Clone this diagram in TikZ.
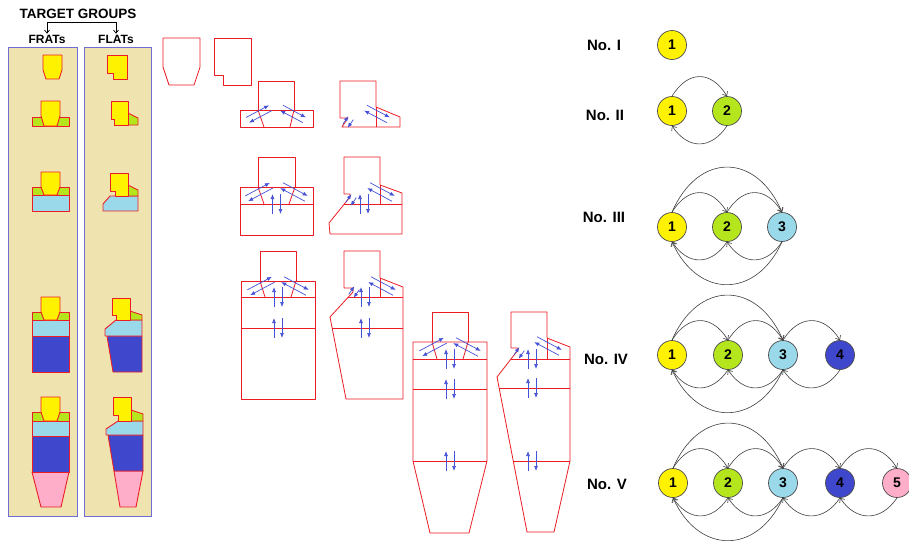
\documentclass[tikz,border=0pt]{standalone}
\usepackage{fontspec}
\setmainfont{Liberation Sans}
\usepackage{xcolor}
\definecolor{tgtan}{RGB}{239,228,176}
\definecolor{tgframe}{RGB}{110,110,210}
\definecolor{tgred}{RGB}{237,28,36}
\definecolor{tgyellow}{RGB}{255,242,0}
\definecolor{tggreen}{RGB}{181,230,29}
\definecolor{tgcyan}{RGB}{153,217,234}
\definecolor{tgblue}{RGB}{63,72,204}
\definecolor{tgpink}{RGB}{255,174,201}
\definecolor{tgflow}{RGB}{70,82,214}
\usetikzlibrary{arrows.meta}

\tikzset{
  layer/.style={draw=tgred, line width=0.9pt, line join=round},
  outline/.style={draw=tgred, line width=0.8pt, line join=round},
  flow/.style={draw=tgflow, line width=0.7pt, -{Latex[length=5pt,width=4pt]}},
  pointer/.style={draw=black, line width=0.7pt, -{Straight Barb[length=3pt,width=5pt]}},
  stage/.style={circle, draw=black!70, line width=0.7pt, minimum size=29pt, inner sep=0pt,
    font=\bfseries\fontsize{14}{14}\selectfont},
  rowlabel/.style={font=\bfseries\fontsize{15}{15}\selectfont},
  link/.style={draw=black!75, line width=0.6pt, -{Straight Barb[length=3.5pt,width=6pt]}},
  hop/.style={link, to path={.. controls +(16,-26) and +(-16,-26) .. (\tikztotarget)}},
  leap/.style={link, to path={.. controls +(26,-60) and +(-26,-60) .. (\tikztotarget)}},
  hopback/.style={link, to path={.. controls +(-16,24) and +(16,24) .. (\tikztotarget)}},
  leapback/.style={link, to path={.. controls +(-26,57) and +(26,57) .. (\tikztotarget)}},
}

% two opposite arrows side by side: centre x, centre y, angle, length
\newcommand{\swapflow}[4]{%
  \begin{scope}[shift={(#1,#2)}, rotate=#3]
    \draw[flow] (-#4/2,-3) -- (#4/2,-3);
    \draw[flow] (#4/2,3) -- (-#4/2,3);
  \end{scope}}
% up and down arrows across a section line: centre x, line y
\newcommand{\updown}[2]{%
  \draw[flow] (#1-4,#2+10) -- (#1-4,#2-10);
  \draw[flow] (#1+4,#2-10) -- (#1+4,#2+10);}

\begin{document}
\begin{tikzpicture}[x=1pt, y=-1pt]
  \fill[white] (0,0) rectangle (909,542);
  \useasboundingbox (0,0) rectangle (909,542);

  % --- Target groups ---
  \node[font=\bfseries\fontsize{13.5}{13.5}\selectfont] (title) at (78,14) {TARGET GROUPS};
  \node[font=\bfseries\fontsize{12}{12}\selectfont, inner sep=1pt] (frat) at (47,39) {FRATs};
  \node[font=\bfseries\fontsize{12}{12}\selectfont, inner sep=1pt] (flat) at (116,39) {FLATs};
  \coordinate (forkl) at (47,22);
  \coordinate (forkr) at (116,22);
  \draw[black, line width=0.7pt] (forkl) -- (forkr);
  \draw[pointer] (forkl) -- (frat);
  \draw[pointer] (forkr) -- (flat);

  \draw[fill=tgtan, draw=tgframe, line width=1pt] (8,47) rectangle (77,516);
  \draw[fill=tgtan, draw=tgframe, line width=1pt] (84,47) rectangle (151,516);

  % FRATs, one layer added per row
  \draw[layer, fill=tgyellow] (43,55) -- (62,55) -- (62,70) -- (59,79) -- (46,79) -- (43,70) -- cycle;

  \draw[layer, fill=tggreen] (32,117) rectangle (69,126);
  \draw[layer, fill=tgyellow] (41,101) -- (60,101) -- (60,116) -- (57,126) -- (44,126) -- (41,116) -- cycle;

  \draw[layer, fill=tgcyan] (32,195) rectangle (69,211);
  \draw[layer, fill=tggreen] (32,187) rectangle (69,195);
  \draw[layer, fill=tgyellow] (41,172) -- (60,172) -- (60,187) -- (57,195) -- (44,195) -- (41,187) -- cycle;

  \draw[layer, fill=tgblue] (32,336) rectangle (69,372);
  \draw[layer, fill=tgcyan] (32,320) rectangle (69,336);
  \draw[layer, fill=tggreen] (32,312) rectangle (69,320);
  \draw[layer, fill=tgyellow] (41,297) -- (60,297) -- (60,312) -- (57,320) -- (44,320) -- (41,312) -- cycle;

  \draw[layer, fill=tgpink] (32,472) -- (69,472) -- (61,507) -- (41,507) -- cycle;
  \draw[layer, fill=tgblue] (32,436) rectangle (69,472);
  \draw[layer, fill=tgcyan] (32,421) rectangle (69,436);
  \draw[layer, fill=tggreen] (32,412) rectangle (69,421);
  \draw[layer, fill=tgyellow] (41,397) -- (60,397) -- (60,412) -- (57,421) -- (44,421) -- (41,412) -- cycle;

  % FLATs, same rows with the notched head
  \draw[layer, fill=tgyellow] (107,55) -- (127,55) -- (127,79) -- (113,79) -- (113,73) -- (107,73) -- cycle;

  \draw[layer, fill=tggreen] (128,113) -- (138,118) -- (138,125) -- (128,125) -- cycle;
  \draw[layer, fill=tgyellow] (111,101) -- (128,101) -- (128,125) -- (114,125) -- (114,119) -- (111,119) -- cycle;

  \draw[layer, fill=tgcyan] (110,196) -- (138,196) -- (138,211) -- (103,211) -- (103,204) -- cycle;
  \draw[layer, fill=tggreen] (128,185) -- (138,190) -- (138,196) -- (128,196) -- cycle;
  \draw[layer, fill=tgyellow] (110,173) -- (128,173) -- (128,196) -- (115,196) -- (115,191) -- (110,191) -- cycle;

  \draw[layer, fill=tgblue] (107,336) -- (142,336) -- (142,372) -- (113,372) -- cycle;
  \draw[layer, fill=tgcyan] (116,320) -- (142,320) -- (142,336) -- (105,336) -- (105,329) -- cycle;
  \draw[layer, fill=tggreen] (130,311) -- (142,315) -- (142,320) -- (130,320) -- cycle;
  \draw[layer, fill=tgyellow] (112,298) -- (130,298) -- (130,320) -- (116,320) -- (116,315) -- (112,315) -- cycle;

  \draw[layer, fill=tgpink] (114,471) -- (143,471) -- (136,507) -- (120,507) -- cycle;
  \draw[layer, fill=tgblue] (108,435) -- (143,435) -- (143,471) -- (114,471) -- cycle;
  \draw[layer, fill=tgcyan] (118,421) -- (143,421) -- (143,435) -- (106,435) -- (106,429) -- cycle;
  \draw[layer, fill=tggreen] (131,410) -- (143,414) -- (143,421) -- (131,421) -- cycle;
  \draw[layer, fill=tgyellow] (113,397) -- (131,397) -- (131,421) -- (118,421) -- (118,415) -- (113,415) -- cycle;

  % --- Outlines with exchange flows ---
  % heads only
  \draw[outline] (163,38) -- (200,38) -- (200,67) -- (194,85) -- (169,85) -- (163,67) -- cycle;
  \draw[outline] (214,38) -- (251,38) -- (251,85) -- (223,85) -- (223,75) -- (214,75) -- cycle;

  % head + 1 section
  \draw[outline] (240,110) rectangle (313,127);
  \draw[outline] (258,110) -- (258,81) -- (294,81) -- (294,110);
  \draw[outline] (258,110) -- (264,127) (294,110) -- (290,127);
  \swapflow{259}{114}{28}{26}
  \swapflow{293}{114}{-28}{26}

  \draw[outline] (340,81) -- (376,81) -- (376,107) -- (400,117) -- (400,127) -- (342,127)
    -- (348,118) -- (340,118) -- cycle;
  \draw[outline] (376,107) -- (376,127);
  \swapflow{377}{114}{-28}{26}
  \swapflow{348}{122}{55}{10}

  % head + 2 sections
  \draw[outline] (240,187) rectangle (313,235);
  \draw[outline] (240,204) -- (313,204);
  \draw[outline] (258,187) -- (258,157) -- (295,157) -- (295,187);
  \draw[outline] (258,187) -- (264,204) (295,187) -- (289,204);
  \swapflow{259}{192}{28}{28}
  \swapflow{294}{192}{-28}{28}
  \updown{276.5}{204}

  \draw[outline] (344,157) -- (380,157) -- (380,185) -- (402,193) -- (402,234) -- (330,234)
    -- (329,223) -- (350,197) -- (350,194) -- (344,194) -- cycle;
  \draw[outline] (380,185) -- (380,204);
  \draw[outline] (344,204) -- (402,204);
  \swapflow{381}{192}{-28}{28}
  \swapflow{351}{200}{55}{10}
  \updown{364}{204}

  % head + 3 sections
  \draw[outline] (241,281) rectangle (315,399);
  \draw[outline] (241,297) -- (315,297);
  \draw[outline] (241,328) -- (315,328);
  \draw[outline] (260,281) -- (260,251) -- (296,251) -- (296,281);
  \draw[outline] (260,281) -- (265,297) (296,281) -- (291,297);
  \swapflow{261}{286}{28}{28}
  \swapflow{295}{286}{-28}{28}
  \updown{278}{297}
  \updown{278}{328}

  \draw[outline] (344,251) -- (380,251) -- (380,278) -- (403,287) -- (403,399) -- (346,399)
    -- (330,317) -- (353,292) -- (353,288) -- (344,288) -- cycle;
  \draw[outline] (380,278) -- (380,297);
  \draw[outline] (348,297) -- (403,297);
  \draw[outline] (332,328) -- (403,328);
  \swapflow{382}{286}{-28}{28}
  \swapflow{354}{292}{55}{10}
  \updown{365}{297}
  \updown{365}{328}

  % head + 4 sections with cone
  \draw[outline] (413,461) -- (413,342) -- (487,342) -- (487,461) -- (469,533) -- (430,533) -- cycle;
  \draw[outline] (413,359) -- (487,359);
  \draw[outline] (413,389) -- (487,389);
  \draw[outline] (413,461) -- (487,461);
  \draw[outline] (432,342) -- (432,312) -- (468,312) -- (468,342);
  \draw[outline] (432,342) -- (437,359) (468,342) -- (463,359);
  \swapflow{433}{347}{28}{28}
  \swapflow{467}{347}{-28}{28}
  \updown{450}{359}
  \updown{450}{389}
  \updown{450}{461}

  \draw[outline] (511,312) -- (547,312) -- (547,338) -- (570,347) -- (570,461) -- (554,532)
    -- (527,532) -- (497,377) -- (518,350) -- (518,348) -- (511,348) -- cycle;
  \draw[outline] (547,338) -- (547,359);
  \draw[outline] (511,359) -- (570,359);
  \draw[outline] (499,388) -- (570,388);
  \draw[outline] (513,461) -- (570,461);
  \swapflow{548}{346}{-28}{28}
  \swapflow{519}{353}{55}{10}
  \updown{532}{359}
  \updown{532}{388}
  \updown{532}{461}

  % --- Stage sequences ---
  \node[rowlabel] (lab1) at (604,45) {No. I};
  \node[stage, fill=tgyellow] (r1n1) at (672,45) {1};

  \node[rowlabel] (lab2) at (605,115) {No. II};
  \node[stage, fill=tgyellow] (r2n1) at (672,111) {1};
  \node[stage, fill=tggreen] (r2n2) at (727,111) {2};
  \draw[hop] (r2n1.north) to (r2n2.north);
  \draw[hopback] (r2n2.south) to (r2n1.south);

  \node[rowlabel] (lab3) at (604,217) {No. III};
  \node[stage, fill=tgyellow] (r3n1) at (672,227) {1};
  \node[stage, fill=tggreen] (r3n2) at (727,227) {2};
  \node[stage, fill=tgcyan] (r3n3) at (782,227) {3};
  \draw[hop] (r3n1.north) to (r3n2.north);
  \draw[hop] (r3n2.north) to (r3n3.north);
  \draw[leap] (r3n1.north) to (r3n3.north);
  \draw[hopback] (r3n2.south) to (r3n1.south);
  \draw[hopback] (r3n3.south) to (r3n2.south);
  \draw[leapback] (r3n3.south) to (r3n1.south);

  \node[rowlabel] (lab4) at (606,359) {No. IV};
  \node[stage, fill=tgyellow] (r4n1) at (672,355) {1};
  \node[stage, fill=tggreen] (r4n2) at (728,355) {2};
  \node[stage, fill=tgcyan] (r4n3) at (783,355) {3};
  \node[stage, fill=tgblue] (r4n4) at (840,355) {4};
  \draw[hop] (r4n1.north) to (r4n2.north);
  \draw[hop] (r4n2.north) to (r4n3.north);
  \draw[leap] (r4n1.north) to (r4n3.north);
  \draw[hop] (r4n3.north) to (r4n4.north);
  \draw[hopback] (r4n2.south) to (r4n1.south);
  \draw[hopback] (r4n3.south) to (r4n2.south);
  \draw[leapback] (r4n3.south) to (r4n1.south);
  \draw[hopback] (r4n4.south) to (r4n3.south);

  \node[rowlabel] (lab5) at (607,484) {No. V};
  \node[stage, fill=tgyellow] (r5n1) at (673,483) {1};
  \node[stage, fill=tggreen] (r5n2) at (728,483) {2};
  \node[stage, fill=tgcyan] (r5n3) at (783,483) {3};
  \node[stage, fill=tgblue] (r5n4) at (840,483) {4};
  \node[stage, fill=tgpink] (r5n5) at (897,483) {5};
  \draw[hop] (r5n1.north) to (r5n2.north);
  \draw[hop] (r5n2.north) to (r5n3.north);
  \draw[leap] (r5n1.north) to (r5n3.north);
  \draw[hop] (r5n3.north) to (r5n4.north);
  \draw[hop] (r5n4.north) to (r5n5.north);
  \draw[hopback] (r5n2.south) to (r5n1.south);
  \draw[hopback] (r5n3.south) to (r5n2.south);
  \draw[leapback] (r5n3.south) to (r5n1.south);
  \draw[hopback] (r5n4.south) to (r5n3.south);
  \draw[hopback] (r5n5.south) to (r5n4.south);
\end{tikzpicture}
\end{document}
